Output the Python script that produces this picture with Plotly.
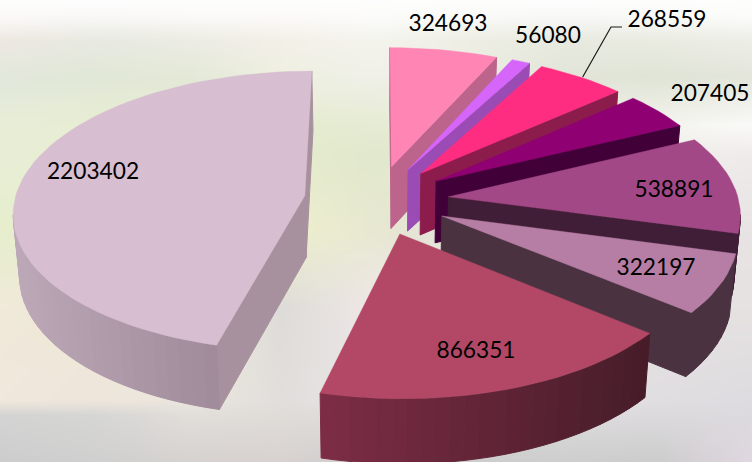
import base64, math, struct, zlib
import numpy as np
import plotly.graph_objects as go

values = [324693, 56080, 268559, 207405, 538891, 322197, 866351, 2203402]
labels = ["324693", "56080", "268559", "207405", "538891", "322197", "866351", "2203402"]
label_x = [448, 548, 667, 710, 674, 656, 476, 93]
label_y = [25.5, 37, 21, 95, 191, 269, 352, 173]
top_colors = ["#FF85B5", "#D666FA", "#FF2D82", "#8F0073", "#A34887", "#B67DA5", "#B24866", "#D7BED0"]
radial_colors = ["#BC648C", "#9B4BB4", "#8C1C4B", "#410037", "#411E37", "#4B3241", "#782A41", "#A8919E"]
arc_left = ["#BC648C", "#9B4BB4", "#8C1C4B", "#410037", "#411E37", "#4B3241", "#7D2D46", "#BDA8B8"]
arc_right = ["#BC648C", "#9B4BB4", "#8C1C4B", "#410037", "#411E37", "#4B3241", "#461C28", "#917D8A"]
paint_order = [0, 1, 2, 3, 7, 4, 5, 6]
leader_x = [582.7, 611, 622]
leader_y = [77, 27, 27]

bg_x = [0, 94, 188, 282, 376, 470, 564, 658, 752]
bg_y = [0, 16, 40, 77, 125, 154, 231, 308, 400, 415, 462]
bg_colors = [
    [(254,254,254)] * 9,
    [(252,250,248),(250,248,246),(252,250,248),(252,250,248),(252,252,250),(250,250,248),(248,248,246),(250,250,248),(252,252,250)],
    [(238,232,226),(232,234,226),(236,236,228),(244,240,232),(244,244,238),(238,238,228),(232,234,224),(234,236,226),(238,238,232)],
    [(226,232,220),(225,232,215),(228,233,215),(238,240,225),(240,240,232),(236,238,226),(226,229,216),(224,228,214),(228,230,220)],
    [(232,238,215),(232,238,212),(232,238,208),(230,236,208),(230,236,212),(236,238,222),(236,238,228),(244,244,238),(250,250,248)],
    [(232,238,215),(232,238,210),(232,238,205),(230,236,205),(225,232,205),(235,238,215),(235,236,225),(240,240,235),(240,235,235)],
    [(230,238,205),(232,238,200),(232,238,195),(238,240,205),(232,232,210),(225,225,220),(230,230,228),(235,228,228),(232,228,228)],
    [(240,234,218),(240,232,215),(240,235,218),(222,220,216),(240,232,232),(235,228,228),(228,222,222),(230,226,226),(230,226,226)],
    [(240,232,220),(238,230,220),(235,230,222),(226,222,220),(232,230,230),(230,228,228),(228,226,228),(225,222,225),(222,220,224)],
    [(212,212,212),(214,214,212),(226,222,218),(224,220,216),(222,220,220),(222,220,220),(222,220,222),(220,218,220),(220,218,222)],
    [(205,205,205),(208,208,208),(214,210,208),(216,210,208),(205,205,205),(205,205,205),(206,206,206),(205,205,205),(225,215,225)],
]

W, H = 752, 462
cx, cy, B, A, p, explode = 376.5, 200.0, 290.0, 139.0, 0.1087, 0.25


def project(u, v):
    s = 1 + p * v
    return cx + B * u / s, cy - A * v / s


def lower(u, v):
    x, y = project(u, v)
    return cx + (x - cx) * 0.982, y + 62 - 2.5 * v


def hex_rgb(h):
    return tuple(int(h[i:i + 2], 16) for i in (1, 3, 5))


def mix(a, b, t):
    ca, cb = hex_rgb(a), hex_rgb(b)
    return "rgb(%d,%d,%d)" % tuple(round(ca[i] + (cb[i] - ca[i]) * t) for i in range(3))


def background_uri():
    xs, ys = np.arange(W), np.arange(H)
    grid = np.array(bg_colors, dtype=float)
    by_col = np.stack([[np.interp(xs, bg_x, grid[r, :, c]) for r in range(len(bg_y))] for c in range(3)], axis=-1)
    img = np.stack([[np.interp(ys, bg_y, by_col[:, x, c]) for x in range(W)] for c in range(3)], axis=-1)
    img = img.transpose(1, 0, 2).astype(np.uint8)
    raw = b"".join(b"\x00" + img[y].tobytes() for y in range(H))

    def chunk(t, d):
        return struct.pack(">I", len(d)) + t + d + struct.pack(">I", zlib.crc32(t + d) & 0xffffffff)

    png = b"\x89PNG\r\n\x1a\n" + chunk(b"IHDR", struct.pack(">IIBBBBB", W, H, 8, 2, 0, 0, 0)) + chunk(b"IDAT", zlib.compress(raw, 9)) + chunk(b"IEND", b"")
    return "data:image/png;base64," + base64.b64encode(png).decode()


fig = go.Figure()


def poly(xs, ys, color, width=0.6):
    fig.add_trace(go.Scatter(x=xs, y=ys, mode="lines", fill="toself", fillcolor=color,
                             line=dict(color=color, width=width), hoverinfo="skip", showlegend=False))


total = sum(values)
edges = np.cumsum([0] + values) / total * 2 * math.pi

for i in paint_order:
    a0, a1 = edges[i], edges[i + 1]
    mid = (a0 + a1) / 2
    ou, ov = explode * math.sin(mid), explode * math.cos(mid)
    n = max(2, int(math.degrees(a1 - a0) / 2.5))
    angles = np.linspace(a0, a1, n + 1)
    ring = [(ou, ov)] + [(ou + math.sin(t), ov + math.cos(t)) for t in angles]
    count = len(ring)
    screen_x = [project(*q)[0] for q in ring[1:]]
    xmin, xmax = min(screen_x), max(screen_x)
    for k in range(count):
        q0, q1 = ring[k], ring[(k + 1) % count]
        x0, y0 = project(*q0)
        x1, y1 = project(*q1)
        if x1 >= x0:
            continue
        bx0, by0 = lower(*q0)
        bx1, by1 = lower(*q1)
        if k == 0 or k == count - 1:
            col = radial_colors[i]
        else:
            col = mix(arc_left[i], arc_right[i], ((x0 + x1) / 2 - xmin) / (xmax - xmin))
        poly([x0, x1, bx1, bx0, x0], [y0, y1, by1, by0, y0], col, 1.0)
    pts = [project(*q) for q in ring]
    poly([q[0] for q in pts] + [pts[0][0]], [q[1] for q in pts] + [pts[0][1]], top_colors[i], 0.4)

fig.add_trace(go.Scatter(x=leader_x, y=leader_y, mode="lines", line=dict(color="#1a1a1a", width=1.2),
                         hoverinfo="skip", showlegend=False))
fig.add_trace(go.Scatter(x=label_x, y=label_y, text=labels, mode="text", textposition="middle center",
                         textfont=dict(family="Lato", size=22.7, color="#000000"),
                         hoverinfo="skip", showlegend=False))

fig.update_layout(
    width=W, height=H, margin=dict(l=0, r=0, t=0, b=0),
    paper_bgcolor="#ffffff", plot_bgcolor="rgba(0,0,0,0)", showlegend=False,
    xaxis=dict(range=[0, W], visible=False, fixedrange=True),
    yaxis=dict(range=[H, 0], visible=False, fixedrange=True),
    images=[dict(source=background_uri(), xref="x", yref="y", x=0, y=0, sizex=W, sizey=H,
                 sizing="stretch", layer="below", xanchor="left", yanchor="top")],
)
fig.write_html("out.html", config={"displayModeBar": False},
               post_script="document.body.style.margin='0';document.documentElement.style.overflow='hidden';")
